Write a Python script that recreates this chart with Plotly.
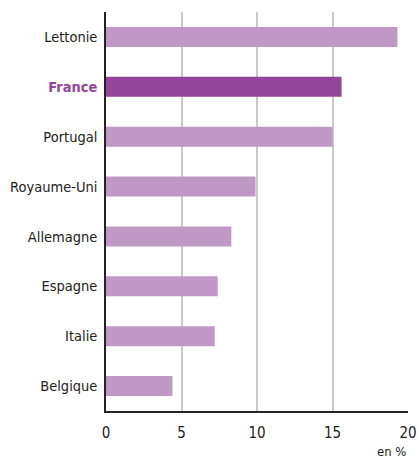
import plotly.graph_objects as go

# Share by country, in %
countries = ["Lettonie", "France", "Portugal", "Royaume-Uni", "Allemagne", "Espagne", "Italie", "Belgique"]
values = [19.3, 15.6, 15.0, 9.9, 8.3, 7.4, 7.2, 4.4]
highlight = "France"
x_ticks = [0, 5, 10, 15, 20]

LIGHT = "#C098C6"
DARK = "#934699"
FONT = "DejaVu Sans Condensed, Liberation Sans Narrow, sans-serif"

colors = [DARK if c == highlight else LIGHT for c in countries]
tick_text = [
    f"<b><span style='color:{DARK}'>{c}</span></b>" if c == highlight else c
    for c in countries
]

fig = go.Figure(
    go.Bar(
        x=values,
        y=countries,
        orientation="h",
        marker=dict(color=colors, line=dict(width=0)),
        hoverinfo="x+y",
    )
)

fig.update_layout(
    width=418,
    height=459,
    margin=dict(l=106, r=10, t=12, b=48, autoexpand=False),
    paper_bgcolor="white",
    plot_bgcolor="white",
    bargap=0.6,
    showlegend=False,
    font=dict(family=FONT, size=14.5, color="#222222"),
)

fig.update_xaxes(
    range=[0, 20],
    tickvals=x_ticks,
    ticktext=[str(t) for t in x_ticks],
    showgrid=True,
    gridcolor="#c8c8c8",
    gridwidth=1.5,
    zeroline=False,
    showline=True,
    linecolor="#222222",
    linewidth=1.5,
    ticks="",
    ticklabelstandoff=7,
    tickfont=dict(size=15, color="#222222"),
    automargin=False,
    fixedrange=True,
)

fig.update_yaxes(
    categoryorder="array",
    categoryarray=countries,
    autorange="reversed",
    tickvals=countries,
    ticktext=tick_text,
    showgrid=False,
    zeroline=False,
    showline=True,
    linecolor="#222222",
    linewidth=1.5,
    ticks="",
    ticklabelstandoff=4,
    tickfont=dict(size=14.5, color="#222222"),
    automargin=False,
    fixedrange=True,
)

fig.add_annotation(
    text="en %",
    xref="paper",
    yref="paper",
    x=1.0,
    y=0,
    yshift=-31,
    xanchor="right",
    yanchor="top",
    showarrow=False,
    font=dict(family=FONT, size=13, color="#222222"),
)

fig.write_html("out.html")
